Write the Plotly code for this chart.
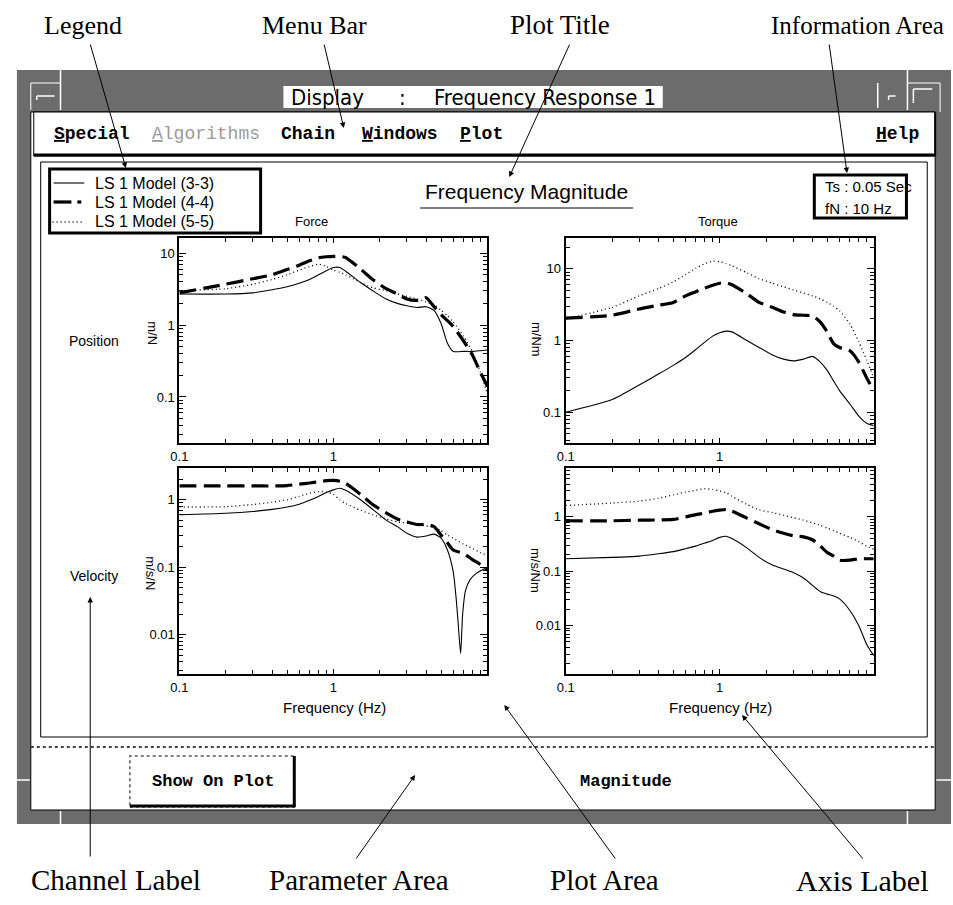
import plotly.graph_objects as go

W, H = 953, 905

# ---------------- data ----------------
freq = [0.1, 0.2, 0.3, 0.4, 0.5, 0.6, 0.7, 0.8, 0.9, 1.0, 1.1, 1.2, 1.5, 1.8,
        2.2, 2.6, 3.0, 3.5, 4.0, 4.5, 5.0, 5.5, 6.0, 7.0, 8.0, 9.0, 10.0]
freq_notch = [0.1, 0.2, 0.3, 0.4, 0.5, 0.6, 0.7, 0.8, 0.9, 1.0, 1.1, 1.2, 1.5, 1.8,
              2.2, 2.6, 3.0, 3.5, 4.0, 4.5, 5.0, 5.5, 6.0, 6.3, 6.5, 6.7, 6.9,
              7.2, 7.7, 8.5, 10.0]

# Position / Force  (m/N)
pos_force_33 = [2.7, 2.7, 2.8, 3.1, 3.4, 3.8, 4.3, 5.0, 5.7, 6.3, 6.3, 5.6, 3.9, 3.0,
                2.3, 2.0, 1.85, 1.75, 1.8, 1.6, 1.05, 0.56, 0.43, 0.43, 0.43, 0.44, 0.45]
pos_force_44 = [2.8, 3.7, 4.4, 5.0, 5.9, 6.8, 7.8, 8.6, 8.9, 9.0, 9.0, 8.7, 6.0, 4.3,
                3.2, 2.7, 2.3, 2.2, 2.4, 1.8, 1.4, 1.15, 0.95, 0.6, 0.38, 0.22, 0.14]
pos_force_55 = [3.0, 3.2, 3.7, 4.3, 5.0, 5.8, 6.5, 7.0, 6.5, 5.8, 5.4, 5.0, 3.9, 3.3,
                3.0, 2.7, 2.5, 2.3, 2.1, 1.9, 1.6, 1.35, 1.1, 0.7, 0.42, 0.22, 0.11]
# Position / Torque (m/Nm)
pos_torque_33 = [0.1, 0.15, 0.24, 0.34, 0.45, 0.58, 0.75, 0.95, 1.15, 1.28, 1.35, 1.32, 1.0, 0.8,
                 0.63, 0.55, 0.52, 0.55, 0.6, 0.5, 0.38, 0.27, 0.2, 0.13, 0.088, 0.07, 0.065]
pos_torque_44 = [2.05, 2.25, 2.75, 3.1, 3.4, 4.2, 4.8, 5.4, 5.9, 6.3, 6.4, 6.0, 4.5, 3.4,
                 2.9, 2.5, 2.3, 2.25, 2.2, 1.8, 1.3, 0.9, 0.8, 0.72, 0.5, 0.3, 0.2]
pos_torque_55 = [2.0, 2.9, 4.2, 5.3, 6.6, 8.3, 10.2, 11.8, 12.8, 12.6, 11.8, 11.0, 8.8, 7.3,
                 6.3, 5.6, 5.1, 4.6, 4.2, 3.8, 3.4, 3.0, 2.6, 1.7, 0.95, 0.53, 0.3]
# Velocity / Force (m/s/N)
vel_force_33 = [0.6, 0.63, 0.67, 0.72, 0.78, 0.86, 0.98, 1.12, 1.28, 1.4, 1.48, 1.38, 1.0, 0.72,
                0.5, 0.4, 0.32, 0.28, 0.29, 0.31, 0.27, 0.18, 0.085, 0.03, 0.012, 0.0053, 0.02,
                0.045, 0.065, 0.082, 0.1]
vel_force_44 = [1.6, 1.6, 1.6, 1.6, 1.62, 1.7, 1.77, 1.85, 1.92, 1.93, 1.88, 1.75, 1.2, 0.85,
                0.64, 0.52, 0.47, 0.43, 0.43, 0.4, 0.3, 0.23, 0.18, 0.16, 0.13, 0.11, 0.09]
vel_force_55 = [0.78, 0.79, 0.85, 0.92, 1.0, 1.12, 1.25, 1.32, 1.3, 1.2, 1.0, 0.88, 0.7, 0.6,
                0.52, 0.47, 0.45, 0.43, 0.41, 0.39, 0.35, 0.3, 0.27, 0.22, 0.19, 0.165, 0.15]
# Velocity / Torque (m/s/Nm)
vel_torque_33 = [0.17, 0.18, 0.19, 0.21, 0.23, 0.26, 0.29, 0.33, 0.37, 0.42, 0.44, 0.4, 0.27, 0.18,
                 0.13, 0.11, 0.095, 0.075, 0.055, 0.042, 0.038, 0.035, 0.031, 0.019, 0.01, 0.0045, 0.0028]
vel_torque_44 = [0.85, 0.85, 0.87, 0.88, 0.9, 1.0, 1.1, 1.18, 1.27, 1.33, 1.37, 1.28, 0.95, 0.75,
                 0.58, 0.5, 0.45, 0.43, 0.38, 0.29, 0.22, 0.19, 0.16, 0.16, 0.17, 0.17, 0.17]
vel_torque_55 = [1.62, 1.8, 1.95, 2.2, 2.55, 2.85, 3.1, 3.3, 3.2, 3.0, 2.8, 2.4, 1.7, 1.35,
                 1.2, 1.07, 0.97, 0.87, 0.78, 0.7, 0.62, 0.56, 0.5, 0.42, 0.35, 0.29, 0.255]

series_names = ["LS 1 Model (3-3)", "LS 1 Model (4-4)", "LS 1 Model (5-5)"]
x_tickvals = [0.1, 1]
x_ticktext = ["0.1", "1"]
y_ticks_top = ([0.1, 1, 10], ["0.1", "1", "10"])
y_ticks_bot = ([0.01, 0.1, 1], ["0.01", "0.1", "1"])
col_labels = ["Force", "Torque"]
row_labels = ["Position", "Velocity"]
unit_labels = ["m/N", "m/Nm", "m/s/N", "m/s/Nm"]

# ---------------- helpers ----------------
SANS = "Liberation Sans, Arial, Helvetica, sans-serif"
SERIF = "Liberation Serif, Times New Roman, serif"
MONO = "Liberation Mono, Courier New, monospace"
NARROW = "Liberation Sans Narrow, DejaVu Sans Condensed, Arial Narrow, sans-serif"
STIPPLE = "#6c6c6c"


def X(px):
    return px / W


def Y(py):
    return 1 - py / H


styles = [
    dict(color="black", width=1.1),
    dict(color="black", width=3.2, dash="17px,7px"),
    dict(color="black", width=1.3, dash="1px,3px"),
]

fig = go.Figure()

panels = [
    ("x", "y", freq, [pos_force_33, pos_force_44, pos_force_55], None),
    ("x2", "y2", freq, [pos_torque_33, pos_torque_44, pos_torque_55], None),
    ("x3", "y3", freq, [vel_force_33, vel_force_44, vel_force_55], freq_notch),
    ("x4", "y4", freq, [vel_torque_33, vel_torque_44, vel_torque_55], None),
]
for xa, ya, f, vals, f_first in panels:
    for i, v in enumerate(vals):
        fx = f_first if (i == 0 and f_first is not None) else f
        fig.add_trace(go.Scatter(
            x=fx, y=v, mode="lines", name=series_names[i], showlegend=False,
            line=dict(shape="spline", smoothing=0.6, **styles[i]),
            xaxis=xa, yaxis=ya, hoverinfo="skip"))

minor_vals = [m * 10 ** e for e in range(-3, 2) for m in range(2, 10)]
tickfont = dict(family=SANS, size=13, color="black")


def xaxis(domain, anchor):
    return dict(domain=domain, anchor=anchor, type="log", range=[-1, 1],
                tickmode="array", tickvals=x_tickvals, ticktext=x_ticktext,
                ticks="inside", ticklen=5, tickwidth=1, tickcolor="black",
                showline=True, linecolor="black", linewidth=2, mirror="ticks",
                showgrid=False, zeroline=False, tickfont=tickfont,
                minor=dict(tickmode="array", tickvals=minor_vals, ticks="inside",
                           ticklen=4, tickcolor="black", tickwidth=1, showgrid=False))


def yaxis(domain, anchor, rng, tk):
    return dict(domain=domain, anchor=anchor, type="log", range=rng,
                tickmode="array", tickvals=tk[0], ticktext=tk[1],
                ticks="inside", ticklen=7, tickwidth=1, tickcolor="black",
                showline=True, linecolor="black", linewidth=2, mirror="ticks",
                showgrid=False, zeroline=False, tickfont=tickfont,
                minor=dict(tickmode="array", tickvals=minor_vals, ticks="inside",
                           ticklen=4, tickcolor="black", tickwidth=1, showgrid=False))


xl = [X(172), X(483)]
xr = [X(562), X(873)]
yt = [Y(443), Y(238)]
yb = [Y(674), Y(468)]

# ---------------- frame shapes ----------------
shapes = []


def rect(x0, y0, x1, y1, fill=None, line=None, width=1, dash=None, layer="below"):
    d = dict(type="rect", xref="paper", yref="paper", x0=X(x0), x1=X(x1),
             y0=Y(y1), y1=Y(y0), layer=layer,
             fillcolor=fill if fill else "rgba(0,0,0,0)")
    if line:
        ln = dict(color=line, width=width)
        if dash:
            ln["dash"] = dash
        d["line"] = ln
    else:
        d["line"] = dict(width=0)
    shapes.append(d)


def seg(x0, y0, x1, y1, color="black", width=1, dash=None, layer="above"):
    ln = dict(color=color, width=width)
    if dash:
        ln["dash"] = dash
    shapes.append(dict(type="line", xref="paper", yref="paper", x0=X(x0), x1=X(x1),
                       y0=Y(y0), y1=Y(y1), line=ln, layer=layer))


# outer stippled window
rect(8, 70, 951, 824, fill=STIPPLE)
# inner white client area
rect(22, 112, 935, 810, fill="white", line="black", width=1)
# title box
rect(277, 86, 660, 108, fill="white")
# window decorations (white lines)
seg(52, 68, 52, 110, color="white", width=1.5, layer="below")
seg(22, 83, 52, 83, color="white", width=1, layer="below")
seg(22, 83, 22, 110, color="white", width=1, layer="below")
seg(28, 96, 46, 96, color="white", width=1.5, layer="below")
seg(28, 96, 28, 100, color="white", width=1.5, layer="below")
seg(877, 83, 877, 108, color="white", width=1.5, layer="below")
seg(907, 68, 907, 110, color="white", width=1.5, layer="below")
seg(907, 83, 940, 83, color="white", width=1, layer="below")
seg(940, 83, 940, 112, color="white", width=1, layer="below")
seg(888, 96, 895, 96, color="white", width=1.5, layer="below")
seg(888, 96, 888, 100, color="white", width=1.5, layer="below")
seg(913, 89, 932, 89, color="white", width=1.5, layer="below")
seg(913, 89, 913, 103, color="white", width=1.5, layer="below")
seg(52, 811, 52, 824, color="white", width=1.5, layer="below")
seg(907, 811, 907, 824, color="white", width=1.5, layer="below")
seg(8, 780, 21, 780, color="white", width=1.5, layer="below")
seg(936, 780, 951, 780, color="white", width=1.5, layer="below")
# menu bar
rect(25, 112, 935, 156, fill="white", line="black", width=1)
seg(25, 155, 935, 155, width=3)
seg(935, 112, 935, 156, width=2)
# plot area
rect(32, 162, 927, 737, line="black", width=1)
# separator above parameter area
seg(22, 747, 935, 747, color="#444444", width=2, dash="dot")
# button
rect(122, 756, 288, 807, fill="white", line="#555555", width=1.5, dash="dot")
seg(122, 806, 289, 806, width=3)
seg(288, 756, 288, 807, width=3)
# plot title underline
seg(415, 208, 630, 208, width=1)
# legend box and samples
rect(41, 169, 254, 233, line="black", width=3, layer="above")
seg(45, 183, 76, 183, width=1.1)
seg(45, 202, 63, 202, width=3.2)
seg(69, 202, 73, 202, width=3.2)
seg(44, 222, 76, 222, width=1.3, dash="1px,3px")
# information box
rect(813, 175, 906, 218, fill="white", line="black", width=3, layer="above")

# ---------------- text ----------------
ann = []


def txt(s, x, y, size, family=SANS, color="black", xanchor="center",
        yanchor="middle", angle=0):
    ann.append(dict(text=s, x=X(x), y=Y(y), xref="paper", yref="paper",
                    showarrow=False, xanchor=xanchor, yanchor=yanchor,
                    textangle=angle, font=dict(family=family, size=size, color=color)))


def arrow(hx, hy, tx, ty):
    ann.append(dict(text="", x=X(hx), y=Y(hy), xref="paper", yref="paper",
                    showarrow=True, ax=tx - hx, ay=ty - hy, axref="pixel", ayref="pixel",
                    arrowhead=2, arrowsize=1.1, arrowwidth=1, arrowcolor="black",
                    standoff=0))


# callout labels
txt("Legend", 75, 25, 26, SERIF)
txt("Menu Bar", 308, 25, 26, SERIF)
txt("Plot Title", 556, 25, 27, SERIF)
txt("Information Area", 857, 25, 25, SERIF)
txt("Channel Label", 108, 880, 29, SERIF)
txt("Parameter Area", 353, 880, 29, SERIF)
txt("Plot Area", 601, 880, 29, SERIF)
txt("Axis Label", 861, 880, 30, SERIF)
arrow(118, 168, 82, 43)
arrow(338, 128, 318, 43)
arrow(505, 177, 566, 43)
arrow(846, 173, 828, 43)
arrow(82, 597, 82, 858)
arrow(410, 775, 350, 860)
arrow(500, 705, 612, 860)
arrow(740, 715, 862, 860)

# title bar
txt("Display", 283, 97, 22, NARROW, xanchor="left")
txt(":", 397, 97, 22, NARROW)
txt("Frequency Response 1", 655, 97, 22, NARROW, xanchor="right")

# menu
txt("<b><u>S</u>pecial</b>", 43, 134, 18, MONO, xanchor="left")
txt("<u>A</u>lgorithms", 142, 134, 18, MONO, color="#9a9a9a", xanchor="left")
txt("<b>Chain</b>", 273, 134, 18, MONO, xanchor="left")
txt("<b><u>W</u>indows</b>", 354, 134, 18, MONO, xanchor="left")
txt("<b><u>P</u>lot</b>", 453, 134, 18, MONO, xanchor="left")
txt("<b><u>H</u>elp</b>", 873, 134, 18, MONO, xanchor="left")

# plot area texts
txt("Frequency Magnitude", 522, 191, 21)
for i, name in enumerate(series_names):
    txt(name, 85, [183, 202, 222][i], 16, xanchor="left")
txt("Ts : 0.05 Sec", 822, 187, 15, xanchor="left")
txt("fN : 10 Hz", 822, 208, 15, xanchor="left")
txt(col_labels[0], 305, 221, 13)
txt(col_labels[1], 716, 221, 13)
txt(row_labels[0], 86, 341, 14)
txt(row_labels[1], 86, 576, 14)
txt(unit_labels[0], 145, 333, 13, angle=90)
txt(unit_labels[1], 532, 340, 13, angle=90)
txt(unit_labels[2], 143, 573, 13, angle=90)
txt(unit_labels[3], 532, 571, 13, angle=90)
txt("Frequency (Hz)", 329, 707, 15)
txt("Frequency (Hz)", 718, 707, 15)

# parameter area
txt("<b>Show On Plot</b>", 206, 781, 17, MONO)
txt("<b>Magnitude</b>", 623, 781, 17, MONO)

fig.update_layout(
    width=W, height=H, margin=dict(l=0, r=0, t=0, b=0),
    paper_bgcolor="white", plot_bgcolor="white", showlegend=False,
    xaxis=xaxis(xl, "y"), yaxis=yaxis(yt, "x", [-1.64, 1.21], y_ticks_top),
    xaxis2=xaxis(xr, "y2"), yaxis2=yaxis(yt, "x2", [-1.43, 1.43], y_ticks_top),
    xaxis3=xaxis(xl, "y3"), yaxis3=yaxis(yb, "x3", [-2.58, 0.47], y_ticks_bot),
    xaxis4=xaxis(xr, "y4"), yaxis4=yaxis(yb, "x4", [-2.89, 0.90], y_ticks_bot),
    shapes=shapes, annotations=ann,
)

fig.write_html("out.html", config={"displayModeBar": False},
               post_script="document.body.style.margin='0px';document.body.style.overflow='hidden';")
